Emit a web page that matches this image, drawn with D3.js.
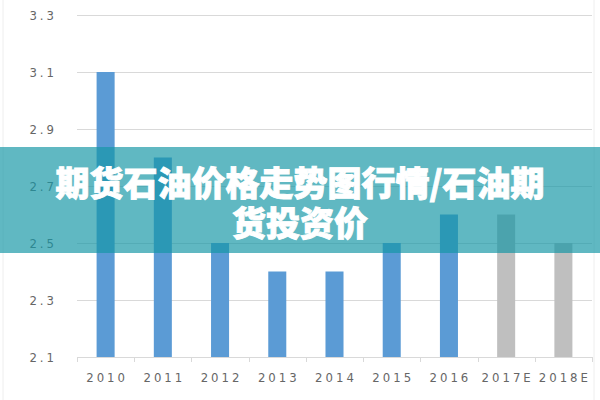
<!DOCTYPE html>
<html>
<head>
    <meta charset="utf-8">
    <script src="https://d3js.org/d3.v7.min.js"></script>
    <style>
        body { margin: 0; background: #fff; }
        .lbl { font-family: 'Liberation Sans Narrow', 'DejaVu Sans Condensed', sans-serif; font-size: 13px; fill: #666; letter-spacing: 3px; }
        .title { font-family: 'Noto Sans CJK SC', sans-serif; font-weight: 900; font-size: 34px; fill: #fff; stroke: #fff; stroke-width: 0.9px; }
    </style>
</head>
<body>
<svg id="chart" width="600" height="400"></svg>
<script>
    // chart data
    var years = ["2010", "2011", "2012", "2013", "2014", "2015", "2016", "2017E", "2018E"];
    var values = [3.1, 2.8, 2.5, 2.4, 2.4, 2.5, 2.6, 2.6, 2.5];
    var forecast = [false, false, false, false, false, false, false, true, true];
    var yTicks = [2.1, 2.3, 2.5, 2.7, 2.9, 3.1, 3.3];
    var titleLines = ["期货石油价格走势图行情/石油期", "货投资价"];

    var svg = d3.select("#chart");

    var x = d3.scaleBand()
        .domain(years)
        .range([77, 592])
        .paddingInner(0.685)
        .paddingOuter(0.3425);

    var y = d3.scaleLinear()
        .domain([2.1, 3.3])
        .range([357, 15]);

    // faint frame
    svg.append("line").attr("x1", 3).attr("x2", 3).attr("y1", 0).attr("y2", 400)
        .attr("stroke", "#eeeeee");
    svg.append("line").attr("x1", 594).attr("x2", 594).attr("y1", 0).attr("y2", 400)
        .attr("stroke", "#eeeeee");

    // grid lines
    svg.selectAll(".grid")
        .data(yTicks)
        .enter()
        .append("line")
        .attr("x1", 77)
        .attr("x2", 592)
        .attr("y1", d => Math.round(y(d)) + 0.5)
        .attr("y2", d => Math.round(y(d)) + 0.5)
        .attr("stroke", "#d9d9d9");

    // y labels
    svg.selectAll(".ylab")
        .data(yTicks)
        .enter()
        .append("text")
        .attr("class", "lbl")
        .attr("x", 57)
        .attr("y", d => y(d) + 5)
        .attr("text-anchor", "end")
        .text(d => d3.format(".1f")(d));

    // bottom ticks at category boundaries
    var bounds = years.map(c => x(c) + x.bandwidth() / 2 - x.step() / 2).concat([592]);
    svg.selectAll(".xtick")
        .data(bounds)
        .enter()
        .append("line")
        .attr("x1", d => Math.round(d) + 0.5)
        .attr("x2", d => Math.round(d) + 0.5)
        .attr("y1", 357)
        .attr("y2", 362)
        .attr("stroke", "#d9d9d9");

    // bars
    svg.selectAll(".bar")
        .data(years)
        .enter()
        .append("rect")
        .attr("x", d => x(d))
        .attr("width", x.bandwidth())
        .attr("y", (d, i) => y(values[i]))
        .attr("height", (d, i) => y(2.1) - y(values[i]))
        .attr("fill", (d, i) => forecast[i] ? "#bfbfbf" : "#5b9bd5");

    // x labels
    svg.selectAll(".xlab")
        .data(years)
        .enter()
        .append("text")
        .attr("class", "lbl")
        .attr("x", d => x(d) + x.bandwidth() / 2 + 1.5)
        .attr("y", 382)
        .attr("text-anchor", "middle")
        .text(d => d);

    // title banner
    svg.append("rect")
        .attr("x", 0)
        .attr("y", 147)
        .attr("width", 600)
        .attr("height", 106)
        .attr("fill", "rgb(20,150,165)")
        .attr("opacity", 0.68);

    svg.selectAll(".title")
        .data(titleLines)
        .enter()
        .append("text")
        .attr("class", "title")
        .attr("x", 300)
        .attr("y", (d, i) => 196 + i * 40)
        .attr("text-anchor", "middle")
        .text(d => d);
</script>
</body>
</html>
